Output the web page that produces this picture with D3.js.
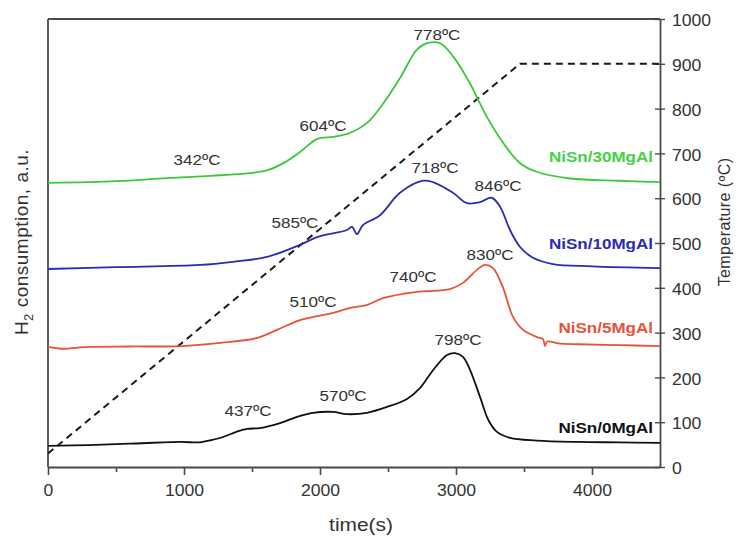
<!DOCTYPE html>
<html>
<head>
<meta charset="utf-8">
<script src="https://cdn.jsdelivr.net/npm/d3@7"></script>
<style>
  html, body { margin: 0; padding: 0; background: #fff; }
  svg { display: block; font-family: "Liberation Sans", Arial, sans-serif; }
  .st { transform-box: fill-box; transform: scaleX(1.1); }
  .st-l { transform-origin: left center; }
  .st-r { transform-origin: right center; }
  .st-c { transform-origin: center center; }
</style>
</head>
<body>
<svg id="chart" width="737" height="541"></svg>
<script>
// ---------- data ----------
const seriesNames = ["NiSn/0MgAl", "NiSn/5MgAl", "NiSn/10MgAl", "NiSn/30MgAl"];

const time0 = [0, 300, 600, 971, 1118, 1200, 1287, 1380, 1463, 1559, 1706, 1831, 1949, 2096, 2198, 2346, 2493, 2640, 2735, 2831, 2934, 2993, 3051, 3103, 3176, 3238, 3299, 3397, 3593, 3900, 4200, 4500];
const h2_0 = [4.7, 4.9, 5.2, 5.6, 5.5, 6.0, 6.7, 7.8, 8.5, 8.7, 9.8, 11.2, 12.1, 12.3, 11.8, 12.1, 13.4, 15.2, 17.6, 21.6, 25.0, 25.4, 24.6, 21.7, 15.7, 10.5, 7.9, 6.5, 5.9, 5.6, 5.5, 5.4];

const time5 = [0, 100, 300, 600, 993, 1300, 1537, 1684, 1853, 2096, 2221, 2346, 2463, 2713, 2956, 3051, 3154, 3213, 3272, 3346, 3419, 3493, 3596, 3640, 3654, 3670, 3750, 3900, 4200, 4500];
const h2_5 = [26.8, 26.4, 26.8, 26.9, 27.0, 27.8, 28.8, 30.6, 32.8, 34.4, 35.5, 36.2, 37.7, 39.1, 39.7, 41.1, 44.0, 45.1, 44.4, 40.0, 33.5, 30.6, 29.0, 28.5, 27.0, 28.0, 27.6, 27.4, 27.2, 27.0];

const time10 = [0, 500, 1118, 1360, 1610, 1853, 1978, 2198, 2235, 2272, 2316, 2441, 2588, 2757, 2831, 2978, 3081, 3176, 3262, 3324, 3397, 3471, 3566, 3713, 4000, 4500];
const h2_10 = [44.2, 44.6, 45.1, 45.8, 46.9, 49.6, 51.3, 52.9, 53.6, 52.0, 54.0, 56.2, 61.2, 63.9, 63.6, 61.2, 58.9, 59.1, 60.1, 58.1, 52.9, 49.1, 46.7, 45.3, 44.8, 44.4];

const time30 = [0, 500, 875, 1200, 1485, 1620, 1740, 1853, 1978, 2100, 2221, 2346, 2466, 2588, 2711, 2787, 2882, 2980, 3103, 3164, 3226, 3348, 3471, 3593, 3838, 4200, 4500];
const h2_30 = [63.4, 63.8, 64.5, 65.0, 65.6, 66.3, 68.0, 70.3, 73.2, 73.7, 74.6, 76.8, 81.2, 86.8, 93.1, 94.6, 94.6, 91.6, 85.6, 81.9, 78.2, 72.3, 67.8, 65.9, 64.4, 63.9, 63.6];

// temperature program (right axis)
const tempTime = [0, 3470, 4500];
const tempValue = [30, 900, 900];

// peak annotations (time, a.u. level of label baseline, text)
const peakText = ["437ºC", "570ºC", "798ºC", "510ºC", "740ºC", "830ºC", "585ºC", "718ºC", "846ºC", "342ºC", "604ºC", "778ºC"];
const peakTime = [1471, 2169, 3015, 1949, 2684, 3250, 1816, 2846, 3309, 1096, 2022, 2860];
const peakLevel = [11.4, 14.7, 27.2, 35.7, 41.3, 46.2, 53.3, 65.6, 61.6, 67.4, 75.0, 95.2];

// series label positions (right-aligned end time, a.u. level of baseline)
const nameTime = [4449, 4449, 4449, 4449];
const nameLevel = [7.6, 29.9, 48.6, 68.0];

const xTicksMajor = [0, 1000, 2000, 3000, 4000];
const xTicksMinor = [500, 1500, 2500, 3500];
const tempTicks = [0, 100, 200, 300, 400, 500, 600, 700, 800, 900, 1000];

// ---------- layout ----------
const colors = ["#111111", "#e5533d", "#2b2bb3", "#3cc83c"];
const labelColors = ["#111111", "#e5533d", "#2b2bb3", "#47cf47"];
const mLeft = 48, mRight = 660, mTop = 19, mBottom = 467;

const svg = d3.select("#chart");
const x = d3.scaleLinear().domain([0, 4500]).range([mLeft, mRight]);
const yH2 = d3.scaleLinear().domain([0, 100]).range([mBottom, mTop]);
const yT = d3.scaleLinear().domain([0, 1000]).range([mBottom, mTop]);

const axisColor = "#4a4a4a";

// frame: left and top lines
svg.append("line").attr("x1", mLeft).attr("x2", mLeft).attr("y1", mTop).attr("y2", mBottom)
  .attr("stroke", axisColor).attr("stroke-width", 1.8);
svg.append("line").attr("x1", mLeft).attr("x2", mRight).attr("y1", mTop).attr("y2", mTop)
  .attr("stroke", axisColor).attr("stroke-width", 1.8);

// x axis
const gx = svg.append("g").attr("transform", `translate(0,${mBottom})`)
  .call(d3.axisBottom(x).tickValues(xTicksMajor).tickSize(8).tickSizeOuter(0).tickFormat(d3.format("d")));
gx.select(".domain").attr("stroke", axisColor).attr("stroke-width", 2);
gx.selectAll(".tick line").attr("stroke", axisColor).attr("stroke-width", 1.6);
gx.selectAll(".tick text").attr("y", 18).attr("font-size", 16)
  .attr("font-family", "Liberation Sans, Arial, sans-serif").attr("fill", "#333")
  .attr("class", "st st-c");
const gxm = svg.append("g").attr("transform", `translate(0,${mBottom})`)
  .call(d3.axisBottom(x).tickValues(xTicksMinor).tickSize(5).tickSizeOuter(0).tickFormat(""));
gxm.select(".domain").remove();
gxm.selectAll(".tick line").attr("stroke", axisColor).attr("stroke-width", 1.6);

// right axis
const gy = svg.append("g").attr("transform", `translate(${mRight},0)`)
  .call(d3.axisRight(yT).tickValues(tempTicks).tickSize(5).tickSizeOuter(0).tickFormat(d3.format("d")));
gy.select(".domain").attr("stroke", axisColor).attr("stroke-width", 1.8);
gy.selectAll(".tick line").attr("x1", -5).attr("x2", 5).attr("stroke", axisColor).attr("stroke-width", 1.4);
gy.selectAll(".tick text").attr("x", 12).attr("dy", "0.42em").attr("font-size", 16)
  .attr("font-family", "Liberation Sans, Arial, sans-serif").attr("fill", "#333")
  .attr("class", "st st-l");

// axis titles
svg.append("text").attr("x", 361).attr("y", 531).attr("text-anchor", "middle")
  .attr("font-size", 19).attr("fill", "#333").attr("class", "st st-c").text("time(s)");

const lt = svg.append("text").attr("transform", "translate(28,242) rotate(-90)")
  .attr("text-anchor", "middle").attr("font-size", 19).attr("letter-spacing", 0.5).attr("fill", "#333");
lt.append("tspan").text("H");
lt.append("tspan").attr("font-size", 13).attr("dy", 5).text("2");
lt.append("tspan").attr("dy", -5).text(" consumption, a.u.");

svg.append("text").attr("transform", "translate(730,222) rotate(-90)")
  .attr("text-anchor", "middle").attr("font-size", 16).attr("letter-spacing", 0.4).attr("fill", "#333")
  .text("Temperature (ºC)");

// temperature ramp
const tempLine = d3.line().x((d, i) => x(tempTime[i])).y((d) => yT(d));
svg.append("path").attr("d", tempLine(tempValue)).attr("fill", "none")
  .attr("stroke", "#1a1a1a").attr("stroke-width", 2).attr("stroke-dasharray", "7,5");

// H2 curves
const allTimes = [time0, time5, time10, time30];
const allVals = [h2_0, h2_5, h2_10, h2_30];
allVals.forEach((vals, s) => {
  const ts = allTimes[s];
  const line = d3.line().x((d, i) => x(ts[i])).y((d) => yH2(d)).curve(d3.curveCatmullRom.alpha(0.5));
  svg.append("path").attr("d", line(vals)).attr("fill", "none")
    .attr("stroke", colors[s]).attr("stroke-width", 1.8).attr("stroke-linejoin", "round");
});

// peak annotations
peakText.forEach((t, i) => {
  svg.append("text").attr("x", x(peakTime[i])).attr("y", yH2(peakLevel[i]))
    .attr("text-anchor", "middle").attr("font-size", 15.5).attr("fill", "#333")
    .attr("class", "st st-c").text(t);
});

// series names
seriesNames.forEach((n, s) => {
  svg.append("text").attr("x", x(nameTime[s])).attr("y", yH2(nameLevel[s]))
    .attr("text-anchor", "end").attr("font-size", 15.5).attr("font-weight", "bold")
    .attr("fill", labelColors[s]).attr("class", "st st-r").text(n);
});
</script>
</body>
</html>
